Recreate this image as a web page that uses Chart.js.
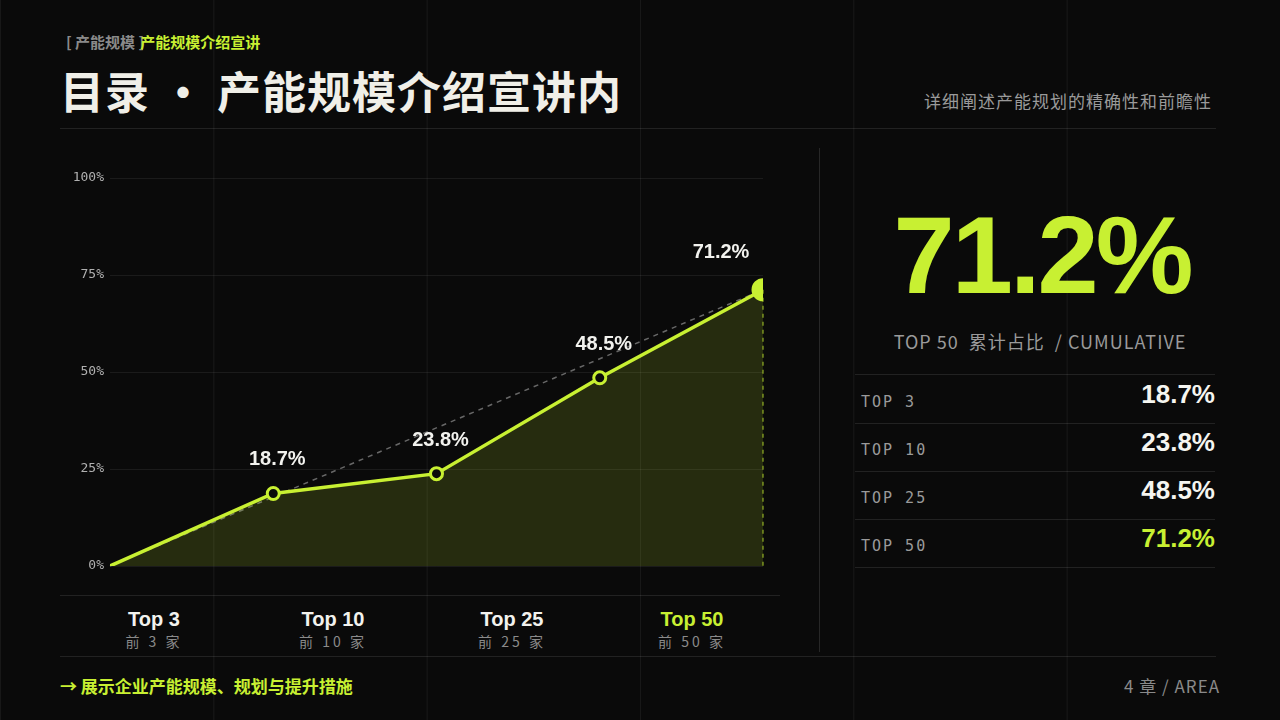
<!DOCTYPE html>
<html><head><meta charset="utf-8">
<script src="https://cdn.jsdelivr.net/npm/chart.js@4"></script>
<style>
html,body{margin:0;padding:0;}
body{width:1280px;height:720px;background:#0a0a0a;position:relative;overflow:hidden;font-family:"Noto Sans CJK SC","Noto Sans",sans-serif;
background-image:linear-gradient(to right, rgba(255,255,255,0.06) 1px, transparent 1px);background-size:213.33px 100%;background-position:0 0;}
.abs{position:absolute;}
.hl{position:absolute;height:1px;background:rgba(255,255,255,0.1);}
.mono{font-family:"DejaVu Sans Mono","Liberation Mono",monospace;}
#c{position:absolute;left:60px;top:150px;}
.cat{position:absolute;top:606px;width:120px;text-align:center;}
.cat b{display:block;font-family:"Liberation Sans",Arial,sans-serif;font-size:20px;color:#f2f2ee;line-height:26px;}
.cat span{display:block;font-size:14px;color:#8a8a8a;letter-spacing:3px;line-height:18px;}
.row{position:absolute;left:855px;width:360px;height:48px;border-bottom:1px solid rgba(255,255,255,0.1);}
.row .l{position:absolute;left:6px;top:18px;font-size:15px;color:#9a9a9a;letter-spacing:2px;}
.row .v{position:absolute;right:0;top:4px;font-family:"Liberation Sans",Arial,sans-serif;font-weight:bold;font-size:26px;color:#f5f5f0;}
</style></head><body>
<div class="abs" style="left:66px;top:31px;font-size:15px;font-weight:bold;color:#8a8a8a;">[ 产能规模 ]<span style="color:#c8f032;margin-left:-4px;">产能规模介绍宣讲</span></div>
<div class="abs" style="left:60px;top:58px;font-size:44px;font-weight:bold;color:#f0efe8;letter-spacing:1px;">目录 · 产能规模介绍宣讲内</div>
<div class="abs" style="right:68px;top:88px;font-size:17px;color:#9a9a9a;letter-spacing:1px;">详细阐述产能规划的精确性和前瞻性</div>
<div class="hl" style="left:60px;top:128px;width:1156px;"></div>
<div class="abs" style="left:819px;top:148px;width:1px;height:504px;background:rgba(255,255,255,0.12);"></div>
<div class="hl" style="left:60px;top:595px;width:720px;"></div>
<div class="hl" style="left:60px;top:656px;width:1156px;"></div>
<canvas id="c" width="720" height="440" style="width:720px;height:440px;"></canvas>
<div class="cat" style="left:94px;"><b>Top 3</b><span>前 3 家</span></div>
<div class="cat" style="left:273px;"><b>Top 10</b><span>前 10 家</span></div>
<div class="cat" style="left:452px;"><b>Top 25</b><span>前 25 家</span></div>
<div class="cat" style="left:632px;"><b style="color:#c8f032">Top 50</b><span>前 50 家</span></div>
<div class="abs" style="left:852px;top:190px;width:380px;text-align:center;font-family:'Liberation Sans',Arial,sans-serif;font-weight:bold;font-size:110px;color:#c8f032;letter-spacing:-3px;line-height:130px;">71.2%</div>
<div class="abs" style="left:852px;top:328px;width:376px;text-align:center;font-size:18px;color:#9a9a9a;letter-spacing:1px;">TOP 50 &nbsp;累计占比 &nbsp;/ CUMULATIVE</div>
<div class="hl" style="left:855px;top:374px;width:360px;"></div>
<div class="row" style="top:375px;"><div class="l mono">TOP 3</div><div class="v">18.7%</div></div>
<div class="row" style="top:423px;"><div class="l mono">TOP 10</div><div class="v">23.8%</div></div>
<div class="row" style="top:471px;"><div class="l mono">TOP 25</div><div class="v">48.5%</div></div>
<div class="row" style="top:519px;"><div class="l mono">TOP 50</div><div class="v" style="color:#c8f032">71.2%</div></div>
<div class="abs" style="left:60px;top:673px;font-size:17px;font-weight:bold;color:#c8f032;">→ 展示企业产能规模、规划与提升措施</div>
<div class="abs" style="right:60px;top:673px;font-size:17px;color:#8a8a8a;letter-spacing:1px;">4 章 / AREA</div>
<script>
const categories=['0','Top 3','Top 10','Top 25','Top 50'];
const values=[0,18.7,23.8,48.5,71.2];
const yTicks=[0,25,50,75,100];
const G='#c8f032';
const pts=values.map((v,i)=>({x:i,y:v}));
const extras={id:'extras',
 beforeDatasetsDraw(ch){const c=ch.ctx,xs=ch.scales.x,ys=ch.scales.y;const n=values.length-1;
  c.save();c.setLineDash([5,5]);c.lineWidth=1.5;c.strokeStyle='rgba(180,180,180,0.55)';
  c.beginPath();c.moveTo(xs.getPixelForValue(0),ys.getPixelForValue(values[0]));c.lineTo(xs.getPixelForValue(n),ys.getPixelForValue(values[n]));c.stroke();
  c.strokeStyle='rgba(200,240,50,0.7)';c.lineWidth=1.2;c.setLineDash([4,4]);
  c.beginPath();c.moveTo(xs.getPixelForValue(n),ys.getPixelForValue(values[n]));c.lineTo(xs.getPixelForValue(n),ys.getPixelForValue(0));c.stroke();c.restore();},
 afterDatasetsDraw(ch){const c=ch.ctx,xs=ch.scales.x,ys=ch.scales.y;c.save();
  c.font='bold 20px "Liberation Sans",Arial,sans-serif';c.fillStyle='#f2f2ee';c.textAlign='center';
  values.forEach((v,i)=>{if(i===0)return;const off=i===values.length-1?32:28;c.fillText(v.toFixed(1)+'%',xs.getPixelForValue(i)+(i===values.length-1?-42:4),ys.getPixelForValue(v)-off);});
  c.restore();}};
new Chart(document.getElementById('c'),{type:'line',
 data:{datasets:[{data:pts,borderColor:G,borderWidth:3.5,fill:'origin',backgroundColor:'rgba(200,240,50,0.15)',tension:0,
  pointRadius:values.map((v,i)=>i===0?0:(i===values.length-1?10:6)),
  pointBackgroundColor:values.map((v,i)=>i===values.length-1?G:'#0a0a0a'),
  pointBorderColor:G,pointBorderWidth:3}]},
 options:{responsive:false,animation:false,events:[],
  layout:{padding:{top:28,right:17,bottom:24,left:0}},
  plugins:{legend:{display:false},tooltip:{enabled:false}},
  scales:{
   x:{type:'linear',min:0,max:categories.length-1,display:false},
   y:{min:0,max:100,afterFit(s){s.width=50;},afterBuildTicks(s){s.ticks=yTicks.map(v=>({value:v}));},
    border:{display:false},grid:{color:'rgba(255,255,255,0.07)',drawTicks:false},
    ticks:{padding:6,color:'#b0b0b0',font:{family:'"DejaVu Sans Mono",monospace',size:13},callback:v=>v+'%'}}}},
 plugins:[extras]});
</script>
</body></html>
